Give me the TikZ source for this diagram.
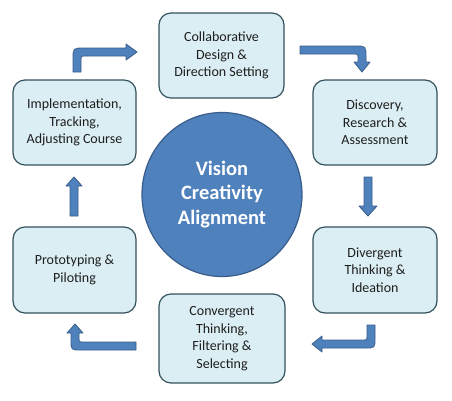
\documentclass[tikz,border=0pt]{standalone}
\usepackage{fontspec}
\setmainfont{Carlito}
\usetikzlibrary{shapes.geometric}
\definecolor{boxfill}{HTML}{DBEEF4}
\definecolor{boxline}{HTML}{34525E}
\definecolor{blueA}{HTML}{4F81BD}
\definecolor{blueB}{HTML}{385D8A}
\definecolor{txt}{HTML}{1E1E1E}
\begin{document}
\begin{tikzpicture}[x=1pt,y=-1pt,
  stagebox/.style={draw=boxline, fill=boxfill, line width=1.2pt, rounded corners=12pt,
    align=center, text=txt, inner sep=0pt,
    font=\fontsize{14}{17.5}\selectfont},
  hub/.style={ellipse, draw=blueB, fill=blueA, line width=1.2pt, align=center, text=white,
    inner sep=0pt, font=\fontsize{20.5}{24.5}\selectfont\bfseries},
  blockarrow/.style={fill=blueA, draw=blueB, line width=0.8pt, line join=round}]
\useasboundingbox (0,0) rectangle (452,400);
% stage boxes
\node[stagebox, minimum width=125pt, minimum height=85pt] (collab) at (221.5,55.5)
  {Collaborative\\Design \&\\Direction Setting};
\node[stagebox, minimum width=124pt, minimum height=85pt] (disc) at (375,122.5)
  {Discovery,\\Research \&\\Assessment};
\node[stagebox, minimum width=124pt, minimum height=86pt] (div) at (375,270)
  {Divergent\\Thinking \&\\Ideation};
\node[stagebox, minimum width=126pt, minimum height=89pt] (conv) at (222,338.5)
  {Convergent\\Thinking,\\Filtering \&\\Selecting};
\node[stagebox, minimum width=123pt, minimum height=86pt] (proto) at (74.5,270)
  {Prototyping \&\\Piloting};
\node[stagebox, minimum width=123pt, minimum height=85pt] (impl) at (74.5,122.5)
  {Implementation,\\Tracking,\\Adjusting Course};
% hub
\node[hub, minimum width=160pt, minimum height=164pt] (core) at (222,194.5)
  {Vision\\Creativity\\Alignment};
% block arrows
\draw[blockarrow] (73,72) -- (73,59) .. controls (73,48) .. (84,48) -- (126,48) -- (126,44)
  -- (137,52) -- (126,60) -- (126,56) -- (84,56) .. controls (81,56) .. (81,59) -- (81,72) -- cycle;
\draw[blockarrow] (300,46) -- (355,46) .. controls (366,46) .. (366,57) -- (366,62) -- (370,62)
  -- (362,72) -- (354,62) -- (358,62) -- (358,57) .. controls (358,54) .. (355,54) -- (300,54) -- cycle;
\draw[blockarrow] (364,177) -- (372,177) -- (372,206) -- (377,206) -- (368,216) -- (359,206)
  -- (364,206) -- cycle;
\draw[blockarrow] (367,325) -- (375,325) -- (375,338) .. controls (375,348) .. (365,348)
  -- (322,348) -- (322,352) -- (312,344) -- (322,336) -- (322,340) -- (364,340)
  .. controls (367,340) .. (367,337) -- cycle;
\draw[blockarrow] (136,342) -- (82,342) .. controls (79,342) .. (79,339) -- (79,333) -- (83,333)
  -- (75,324) -- (67,333) -- (71,333) -- (71,340) .. controls (71,350) .. (81,350) -- (136,350) -- cycle;
\draw[blockarrow] (70,216) -- (78,216) -- (78,186) -- (82,186) -- (74,177) -- (66,186)
  -- (70,186) -- cycle;
\end{tikzpicture}
\end{document}
